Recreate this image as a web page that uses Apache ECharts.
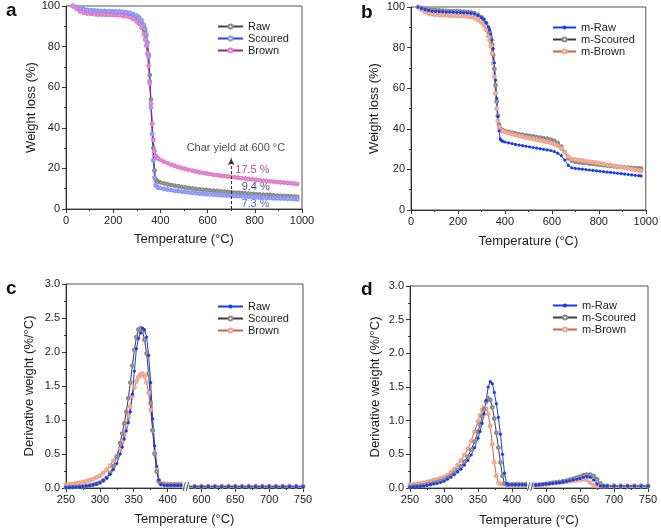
<!DOCTYPE html>
<html><head><meta charset="utf-8">
<script src="https://cdn.jsdelivr.net/npm/echarts@6/dist/echarts.min.js"></script>
<style>html,body{margin:0;padding:0;background:#fff}#c{width:661px;height:529px}</style>
</head><body><div id="c"></div>
<script>
const FONT = '"Liberation Sans", Arial, sans-serif';

// ---------- TGA (panels a, b) ----------
const tempTGA = [30,45,60,75,90,105,120,135,150,165,180,195,210,225,240,255,270,285,300,
  310,320,330,
  335,340,345,350,355,360,365,370,375,380,385,390,
  400,
  415,430,445,460,475,490,505,520,535,550,565,580,595,610,625,640,655,670,685,700,715,730,745,760,775,790,805,820,835,850,865,880,895,910,925,940,955,970,
  980];

const tgaRaw = [100,99.2,98.4,97.8,97.4,97.2,97.0,96.9,96.8,96.8,96.7,96.6,96.5,96.4,96.3,96.1,95.8,95.2,94.3,
  93.3,91.8,89.5,
  87.8,85.5,82,76,66,54,42,30,19,14.5,13.8,13.5,
  13.1,
  12.6,12.2,11.8,11.5,11.2,10.9,10.6,10.4,10.1,9.9,9.7,9.5,9.4,9.2,9.0,8.9,8.7,8.6,8.4,8.3,8.1,8.0,7.9,7.7,7.6,7.5,7.3,7.2,7.1,7.0,6.9,6.7,6.6,6.5,6.4,6.3,6.2,6.1,
  6.0];
const tgaScoured = [100,99.5,98.9,98.4,98.1,97.9,97.8,97.7,97.6,97.6,97.5,97.5,97.4,97.3,97.2,97.0,96.7,96.1,95.3,
  94.4,93.0,90.7,
  88.8,86,82,75,63,50,37,24,15.5,11.8,11.0,10.6,
  10.3,
  9.9,9.6,9.3,9.0,8.8,8.6,8.4,8.2,8.0,7.8,7.6,7.5,7.3,7.2,7.1,6.9,6.8,6.7,6.6,6.5,6.4,6.3,6.2,6.1,6.0,5.9,5.8,5.7,5.6,5.5,5.4,5.3,5.3,5.2,5.1,5.0,5.0,4.9,
  4.8];
const tgaBrown = [100,98.6,97.4,96.7,96.3,96.1,95.9,95.8,95.8,95.7,95.7,95.6,95.5,95.4,95.2,94.9,94.4,93.6,92.4,
  91.2,89.2,86,
  83.5,80.5,76.5,70.5,62,52,42,34,28.5,26.3,25.4,24.9,
  24.2,
  23.3,22.6,21.9,21.3,20.7,20.2,19.7,19.3,18.9,18.5,18.1,17.8,17.5,17.2,16.9,16.7,16.4,16.2,16.0,15.8,15.6,15.4,15.2,15.0,14.8,14.6,14.4,14.2,14.0,13.8,13.6,13.5,13.3,13.1,13.0,12.8,12.7,12.5,
  12.4];

const tgaMRaw = [100,99.3,98.7,98.3,98.0,97.8,97.7,97.6,97.5,97.5,97.4,97.3,97.3,97.2,97.1,96.9,96.5,95.8,94.8,
  93.8,92.3,90.2,
  88.7,86.7,83.8,79.5,72.5,64,55,46,39,35,34.2,33.9,
  33.5,
  33.1,32.7,32.3,32.0,31.7,31.4,31.1,30.8,30.5,30.2,29.9,29.6,29.3,28.8,28.0,26.8,24.6,22.0,20.8,20.5,20.3,20.1,19.9,19.7,19.5,19.3,19.1,18.9,18.7,18.5,18.3,18.1,17.9,17.7,17.5,17.3,17.1,16.9,
  16.8];
const tgaMScoured = [100,99.5,99.0,98.7,98.5,98.4,98.3,98.2,98.1,98.0,98.0,97.9,97.8,97.7,97.6,97.4,97.0,96.2,95.0,
  93.8,92.0,89.3,
  87.5,85.0,81.5,76.5,69.5,61.5,53.5,46.5,42.0,40.2,39.6,39.3,
  38.9,
  38.5,38.1,37.7,37.4,37.1,36.8,36.5,36.2,35.9,35.7,35.4,35.1,34.7,34.1,33.0,31.2,28.5,25.5,24.3,23.8,23.5,23.3,23.1,22.9,22.7,22.5,22.3,22.1,21.9,21.7,21.5,21.3,21.2,21.0,20.9,20.7,20.6,20.5,
  20.4];
const tgaMBrown = [100,98.6,97.5,96.8,96.4,96.2,96.0,95.9,95.9,95.8,95.7,95.7,95.6,95.5,95.3,95.0,94.5,93.6,92.3,
  90.9,88.8,85.7,
  83.5,80.8,77.2,72.3,65.5,57.5,50,44,40.8,39.5,39.0,38.8,
  38.4,
  37.9,37.4,36.9,36.5,36.1,35.7,35.3,34.9,34.6,34.2,33.9,33.5,33.1,32.5,31.6,30.3,28.4,26.3,25.2,24.9,24.6,24.4,24.1,23.8,23.6,23.3,23.0,22.7,22.4,22.1,21.8,21.5,21.2,20.8,20.5,20.1,19.8,19.4,
  19.2];

// ---------- DTG (panels c, d) ----------
const tempDTGc = [250,255,260,265,270,275,280,285,290,295,300,305,310,315,320,325,330,
  333,336,339,342,345,348,351,354,357,360,363,366,369,372,375,378,381,384,387,390,
  395,400,405,410,415,420,
  580,590,600,610,620,630,640,650,660,670,680,690,700,710,720,730,740,750];
const dtgRaw = [0.005,0.007,0.01,0.013,0.017,0.022,0.028,0.035,0.045,0.06,0.08,0.11,0.15,0.2,0.27,0.36,0.5,
  0.6,0.72,0.84,0.96,1.12,1.38,1.72,2.05,2.2,2.28,2.35,2.33,2.22,1.95,1.55,1.02,0.62,0.32,0.12,0.05,
  0.04,0.04,0.04,0.04,0.04,0.04,
  0.02,0.02,0.02,0.02,0.02,0.02,0.02,0.02,0.02,0.02,0.02,0.02,0.02,0.02,0.02,0.02,0.02,0.02];
const dtgScoured = [0.01,0.012,0.014,0.017,0.02,0.025,0.03,0.038,0.05,0.063,0.08,0.11,0.15,0.22,0.32,0.46,0.66,
  0.8,0.95,1.12,1.32,1.55,1.8,2.03,2.22,2.33,2.35,2.3,2.18,1.98,1.68,1.25,0.85,0.5,0.24,0.1,0.06,
  0.05,0.045,0.045,0.045,0.045,0.045,
  0.02,0.02,0.02,0.02,0.02,0.02,0.02,0.02,0.02,0.02,0.02,0.02,0.02,0.02,0.02,0.02,0.02,0.02];
const dtgBrown = [0.05,0.055,0.06,0.07,0.08,0.09,0.1,0.115,0.13,0.155,0.18,0.22,0.27,0.33,0.4,0.47,0.58,
  0.68,0.8,0.93,1.06,1.2,1.35,1.48,1.57,1.63,1.67,1.68,1.64,1.55,1.4,1.15,0.85,0.52,0.27,0.12,0.07,
  0.065,0.06,0.06,0.06,0.06,0.06,
  0.03,0.03,0.03,0.03,0.03,0.03,0.03,0.03,0.03,0.03,0.03,0.03,0.03,0.03,0.03,0.03,0.03,0.03];

const tempDTGd = [250,255,260,265,270,275,280,285,290,295,300,305,310,315,320,325,330,335,340,345,350,
  353,356,359,362,365,368,371,374,377,380,383,386,389,392,395,
  400,405,410,415,420,
  580,585,590,595,600,605,610,615,620,625,630,635,640,645,650,655,660,665,670,675,680,685,690,
  700,710,720,730,740,750];
const dtgMRaw = [0.01,0.015,0.02,0.025,0.03,0.04,0.05,0.06,0.07,0.085,0.1,0.13,0.16,0.2,0.24,0.28,0.34,0.41,0.49,0.6,0.74,
  0.84,0.96,1.1,1.3,1.5,1.58,1.55,1.42,1.25,1.05,0.8,0.5,0.22,0.07,0.05,
  0.05,0.05,0.05,0.05,0.05,
  0.04,0.045,0.05,0.055,0.06,0.065,0.07,0.075,0.08,0.09,0.1,0.11,0.12,0.13,0.14,0.16,0.17,0.16,0.12,0.06,0.03,0.03,0.03,
  0.03,0.03,0.03,0.03,0.03,0.03];
const dtgMScoured = [0.02,0.025,0.03,0.035,0.04,0.05,0.06,0.075,0.09,0.105,0.12,0.15,0.18,0.22,0.27,0.32,0.39,0.47,0.57,0.69,0.84,
  0.94,1.06,1.17,1.28,1.33,1.31,1.2,1.03,0.82,0.6,0.38,0.18,0.07,0.05,0.05,
  0.05,0.05,0.05,0.05,0.05,
  0.04,0.045,0.05,0.055,0.06,0.07,0.08,0.085,0.09,0.1,0.11,0.125,0.14,0.155,0.17,0.19,0.2,0.2,0.18,0.13,0.07,0.03,0.03,
  0.03,0.03,0.03,0.03,0.03,0.03];
const dtgMBrown = [0.05,0.055,0.06,0.07,0.08,0.09,0.1,0.115,0.13,0.145,0.16,0.19,0.23,0.28,0.34,0.41,0.49,0.58,0.7,0.84,0.99,
  1.08,1.16,1.2,1.18,1.1,0.92,0.65,0.38,0.18,0.08,0.06,0.06,0.06,0.06,0.06,
  0.06,0.06,0.06,0.06,0.06,
  0.04,0.045,0.05,0.055,0.06,0.065,0.07,0.075,0.08,0.085,0.09,0.1,0.11,0.115,0.12,0.13,0.12,0.08,0.04,0.03,0.03,0.03,0.03,
  0.03,0.03,0.03,0.03,0.03,0.03];

// ---------- annotations (panel a) ----------
const annotText = ['Char yield at 600 \u00B0C', '17.5 %', '9.4 %', '7.3 %'];
const annotX = [720, 790, 804, 803];
const annotY = [30, 19.2, 11, 2.5];
const annotColor = ['#222222', '#a0208a', '#1c1c50', '#2a44ff'];
const arrowX = 700, arrowY0 = 0, arrowY1 = 25;

// ---------- broken x axis for c, d ----------
const BREAK_FROM = 425, BREAK_TO = 575;
function brk(t) { return t <= BREAK_FROM ? t : t - (BREAK_TO - BREAK_FROM); }
function unbrk(v) { return v <= BREAK_FROM ? v : v + (BREAK_TO - BREAK_FROM); }
function pairs(ts, vs) { return ts.map((t, i) => [t, vs[i]]); }
function brokenPairs(ts, vs) {
  const out = [];
  ts.forEach((t, i) => {
    if (i > 0 && ts[i - 1] <= BREAK_FROM && t >= BREAK_TO) out.push([BREAK_FROM + 1, '-']);
    out.push([brk(t), vs[i]]);
  });
  return out;
}

const AX = '#333';
function xAxis(gi, min, max, interval, nameGap, fmt) {
  return {
    type: 'value', gridIndex: gi, min: min, max: max, interval: interval,
    name: 'Temperature (\u00B0C)', nameLocation: 'middle', nameGap: nameGap,
    nameTextStyle: { color: '#222', fontSize: 13, fontFamily: FONT },
    axisLine: { onZero: false, lineStyle: { color: AX, width: 1 } },
    axisTick: { show: true, inside: false, length: 4, lineStyle: { color: AX } },
    minorTick: { show: true, splitNumber: 2, length: 2, lineStyle: { color: AX } },
    splitLine: { show: false },
    axisLabel: { color: '#222', fontSize: 11, fontFamily: FONT, margin: 6, formatter: fmt }
  };
}
function yAxis(gi, min, max, interval, name, nameGap, fmt) {
  return {
    type: 'value', gridIndex: gi, min: min, max: max, interval: interval,
    name: name, nameLocation: 'middle', nameGap: nameGap,
    nameTextStyle: { color: '#222', fontSize: 13, fontFamily: FONT },
    axisLine: { onZero: false, lineStyle: { color: AX, width: 1 } },
    axisTick: { show: true, inside: false, length: 4, lineStyle: { color: AX } },
    minorTick: { show: true, splitNumber: 2, length: 2, lineStyle: { color: AX } },
    splitLine: { show: false },
    axisLabel: { color: '#222', fontSize: 11, fontFamily: FONT, margin: 6, formatter: fmt }
  };
}
function lineSeries(name, gi, data, lineColor, markColor, symbol) {
  const filled = symbol === 'circle';
  return {
    type: 'line', name: name, xAxisIndex: gi, yAxisIndex: gi, data: data,
    symbol: symbol, symbolSize: filled ? 3.2 : 2.8, showAllSymbol: true, connectNulls: false,
    lineStyle: { color: lineColor, width: 1 },
    itemStyle: { color: markColor, borderColor: markColor, borderWidth: filled ? 0 : 0.7 },
    emphasis: { disabled: true }, animation: false
  };
}
function legend(left, top, names, itemWidth) {
  return {
    left: left, top: top, orient: 'vertical', itemGap: 1, itemWidth: itemWidth, itemHeight: 5,
    padding: 0, selectedMode: false, data: names,
    textStyle: { color: '#222', fontSize: 11, fontFamily: FONT }
  };
}
const fmt0 = v => String(v);
const fmt1 = v => v.toFixed(1);
const fmtBrk = v => String(unbrk(v));

const C = {
  aRaw: ['#444444', '#8a8a8a'], aSc: ['#2d3ee8', '#8a98f8'], aBr: ['#a4207e', '#e07ccc'],
  raw: ['#1a3cf0', '#1a3cf0'], sc: ['#3c3c3c', '#8a8a8a'], br: ['#c86448', '#f0a48c']
};
const breakLabel = { show: true, position: 'inside', formatter: '//', color: '#222', fontSize: 12, fontFamily: FONT, backgroundColor: '#fff', padding: [0, 0] };

const chart = echarts.init(document.getElementById('c'), null, { renderer: 'canvas' });
chart.setOption({
  animation: false,
  backgroundColor: '#fff',
  title: [
    { text: 'a', left: 6, top: 1, padding: 0, textStyle: { fontSize: 19, fontWeight: 'bold', color: '#111', fontFamily: FONT } },
    { text: 'b', left: 361, top: 3, padding: 0, textStyle: { fontSize: 19, fontWeight: 'bold', color: '#111', fontFamily: FONT } },
    { text: 'c', left: 6, top: 279, padding: 0, textStyle: { fontSize: 19, fontWeight: 'bold', color: '#111', fontFamily: FONT } },
    { text: 'd', left: 361, top: 280, padding: 0, textStyle: { fontSize: 19, fontWeight: 'bold', color: '#111', fontFamily: FONT } }
  ],
  grid: [
    { left: 66, top: 6, width: 236, height: 203, show: true, borderColor: '#555', borderWidth: 1 },
    { left: 411, top: 7, width: 236, height: 203, show: true, borderColor: '#555', borderWidth: 1 },
    { left: 66, top: 284, width: 237, height: 204, show: true, borderColor: '#555', borderWidth: 1 },
    { left: 410, top: 286, width: 238, height: 202, show: true, borderColor: '#555', borderWidth: 1 }
  ],
  xAxis: [
    xAxis(0, 0, 1000, 200, 24, fmt0),
    xAxis(1, 0, 1000, 200, 25, fmt0),
    xAxis(2, 250, 600, 50, 25, fmtBrk),
    xAxis(3, 250, 600, 50, 26, fmtBrk)
  ],
  yAxis: [
    yAxis(0, 0, 100, 20, 'Weight loss (%)', 26, fmt0),
    yAxis(1, 0, 100, 20, 'Weight loss (%)', 30, fmt0),
    yAxis(2, 0, 3, 0.5, 'Derivative weight (%/\u00B0C)', 30, fmt1),
    yAxis(3, 0, 3, 0.5, 'Derivative weight (%/\u00B0C)', 28, fmt1)
  ],
  legend: [
    legend(217, 21, ['Raw', 'Scoured', 'Brown'], 25),
    legend(552, 22, ['m-Raw', 'm-Scoured', 'm-Brown'], 23),
    legend(217, 301, ['Raw ', 'Scoured ', 'Brown '], 25),
    legend(552, 300, ['m-Raw ', 'm-Scoured ', 'm-Brown '], 24)
  ],
  series: [
    lineSeries('Raw', 0, pairs(tempTGA, tgaRaw), C.aRaw[0], C.aRaw[1], 'emptyCircle'),
    lineSeries('Scoured', 0, pairs(tempTGA, tgaScoured), C.aSc[0], C.aSc[1], 'emptyCircle'),
    lineSeries('Brown', 0, pairs(tempTGA, tgaBrown), C.aBr[0], C.aBr[1], 'emptyCircle'),

    lineSeries('m-Scoured', 1, pairs(tempTGA, tgaMScoured), C.sc[0], C.sc[1], 'emptyCircle'),
    lineSeries('m-Brown', 1, pairs(tempTGA, tgaMBrown), C.br[0], C.br[1], 'emptyCircle'),
    lineSeries('m-Raw', 1, pairs(tempTGA, tgaMRaw), C.raw[0], C.raw[1], 'circle'),

    lineSeries('Brown ', 2, brokenPairs(tempDTGc, dtgBrown), C.br[0], C.br[1], 'emptyCircle'),
    lineSeries('Scoured ', 2, brokenPairs(tempDTGc, dtgScoured), C.sc[0], C.sc[1], 'emptyCircle'),
    lineSeries('Raw ', 2, brokenPairs(tempDTGc, dtgRaw), C.raw[0], C.raw[1], 'circle'),

    lineSeries('m-Brown ', 3, brokenPairs(tempDTGd, dtgMBrown), C.br[0], C.br[1], 'emptyCircle'),
    lineSeries('m-Scoured ', 3, brokenPairs(tempDTGd, dtgMScoured), C.sc[0], C.sc[1], 'emptyCircle'),
    lineSeries('m-Raw ', 3, brokenPairs(tempDTGd, dtgMRaw), C.raw[0], C.raw[1], 'circle'),

    {
      type: 'scatter', xAxisIndex: 0, yAxisIndex: 0, symbolSize: 1, silent: true,
      itemStyle: { color: 'rgba(0,0,0,0)' },
      data: annotText.map((t, i) => ({
        value: [annotX[i], annotY[i]],
        label: { show: true, position: 'inside', formatter: t, color: annotColor[i], fontSize: 11, fontFamily: FONT }
      })),
      markLine: {
        silent: true, symbol: ['none', 'arrow'], symbolSize: [5, 7], animation: false,
        lineStyle: { type: [3, 2], color: '#333', width: 1 }, label: { show: false },
        data: [[{ coord: [arrowX, arrowY0] }, { coord: [arrowX, arrowY1] }]]
      }
    },
    {
      type: 'scatter', xAxisIndex: 2, yAxisIndex: 2, symbolSize: 1, silent: true, z: 5,
      itemStyle: { color: 'rgba(0,0,0,0)' },
      data: [{ value: [BREAK_FROM + 2, 0], label: breakLabel }]
    },
    {
      type: 'scatter', xAxisIndex: 3, yAxisIndex: 3, symbolSize: 1, silent: true, z: 5,
      itemStyle: { color: 'rgba(0,0,0,0)' },
      data: [{ value: [BREAK_FROM + 2, 0], label: breakLabel }]
    }
  ]
});
</script></body></html>
